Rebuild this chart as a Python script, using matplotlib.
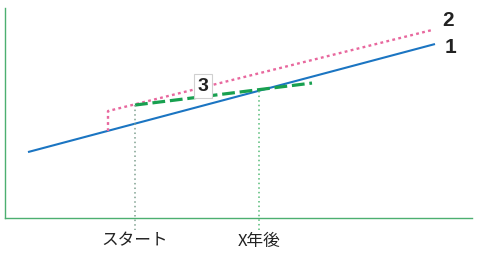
import matplotlib.pyplot as plt

# data in chart units (x: time, y: value)
blue_x = [28, 435]
blue_y = [107, 215]
pink_x = [108, 108, 432]
pink_y = [128, 148, 229]
green_x = [135, 312]
green_y = [154, 176]
mark_x = [135, 259]
mark_top = [154, 168]
tick_labels = ["スタート", "X年後"]

plt.rcParams['font.family'] = ['Noto Sans CJK JP', 'DejaVu Sans']

fig = plt.figure(figsize=(5, 2.59), dpi=100)
ax = fig.add_axes([0.01, 0.158, 0.934, 0.811])
ax.set_xlim(5, 472)
ax.set_ylim(41, 251)

ax.plot(blue_x, blue_y, color='#1b75c2', lw=1.5, solid_capstyle='butt')
ax.plot(pink_x, pink_y, color='#e8689e', lw=1.7, linestyle=(0, (1.2, 1.4)))
ax.plot(green_x, green_y, color='#18a050', lw=2.3, linestyle=(0, (4, 1.5)))

vcolors = ['#7fa090', '#55bb77']
for x, top, c in zip(mark_x, mark_top, vcolors):
    ax.plot([x, x], [top, 29], color=c, lw=1.1, linestyle=(0, (1, 2)), clip_on=False)

for x, lab in zip(mark_x, tick_labels):
    ax.text(x, 18, lab, ha='center', va='center', fontsize=12, color='#222222')

ax.text(448, 239, "2", ha='center', va='center', fontsize=15, fontweight='bold',
        family='Liberation Sans', color='#222222')
ax.text(450, 212, "1", ha='center', va='center', fontsize=15, fontweight='bold',
        family='Liberation Sans', color='#222222')
ax.text(203, 173, "3", ha='center', va='center', fontsize=14, fontweight='bold',
        family='Liberation Sans', color='#222222',
        bbox=dict(boxstyle='square,pad=0.2', fc='white', ec='#d0d0d0', lw=0.8))

for s in ['top', 'right']:
    ax.spines[s].set_visible(False)
for s in ['left', 'bottom']:
    ax.spines[s].set_color('#4caf70')
    ax.spines[s].set_linewidth(1.0)
ax.set_xticks([])
ax.set_yticks([])

fig.savefig('out.png', dpi=100)
